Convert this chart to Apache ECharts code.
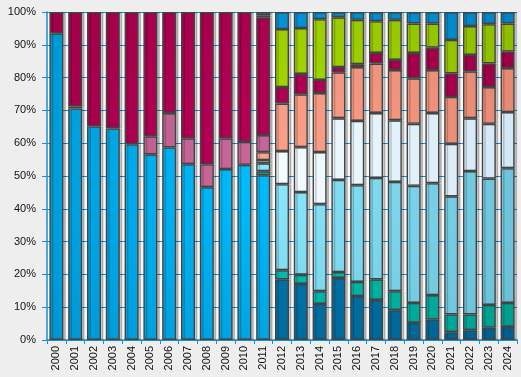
<!DOCTYPE html>
<html>
<head>
<meta charset="utf-8">
<script src="https://cdn.jsdelivr.net/npm/echarts@6/dist/echarts.min.js"></script>
<style>
    html, body { margin: 0; padding: 0; background: #eeeeee; }
    #chart { width: 521px; height: 377px; }
</style>
</head>
<body>
<div id="chart"></div>
<script>
let years = ['2000', '2001', '2002', '2003', '2004', '2005', '2006', '2007', '2008', '2009', '2010', '2011', '2012',
    '2013', '2014', '2015', '2016', '2017', '2018', '2019', '2020', '2021', '2022', '2023', '2024'];

// stacked from the bottom up, in percent of each year
let brightBlue = [93.5, 70.6, 65.1, 64.5, 59.7, 56.6, 58.7, 53.6, 46.6, 52.1, 53.4, 50.2, 0, 0, 0, 0, 0, 0, 0, 0, 0, 0, 0, 0, 0];
let darkBlue = [0, 0, 0, 0, 0, 0, 0, 0, 0, 0, 0, 0, 18.5, 17.1, 11.0, 18.9, 13.4, 12.2, 9.1, 5.2, 6.2, 2.4, 3.0, 3.7, 4.0];
let teal = [0, 0, 0, 0, 0, 0, 0, 0, 0, 0, 0, 1.2, 2.8, 2.8, 3.9, 1.8, 4.3, 6.3, 5.8, 6.1, 7.5, 5.4, 4.8, 7.0, 7.3];
let lightCyan = [0, 0, 0, 0, 0, 0, 0, 0, 0, 0, 0, 2.4, 26.2, 25.2, 26.5, 28.1, 29.5, 30.9, 33.3, 35.7, 34.1, 36.0, 43.7, 38.5, 41.1];
let paleCyan = [0, 0, 0, 0, 0, 0, 0, 0, 0, 0, 0, 1.0, 10.1, 13.7, 15.9, 18.8, 19.6, 19.8, 18.8, 18.9, 21.4, 16.0, 16.1, 16.7, 17.1];
let salmon = [0, 0, 0, 0, 0, 0, 0, 0, 0, 0, 0, 2.4, 14.5, 16.1, 18.0, 14.0, 16.4, 15.1, 15.3, 13.9, 13.1, 14.3, 14.3, 11.2, 13.4];
let mauve = [0, 0.6, 0, 0, 0, 5.5, 10.5, 7.9, 7.0, 9.4, 7.0, 5.2, 0, 0, 0, 0, 0, 0, 0, 0, 0, 0, 0, 0, 0];
let crimson = [6.5, 28.8, 34.9, 35.5, 40.3, 37.9, 30.8, 38.5, 46.4, 38.5, 39.6, 35.9, 5.0, 6.2, 4.0, 1.6, 0.9, 3.2, 3.1, 7.7, 6.8, 7.2, 5.0, 7.2, 5.0];
let green = [0, 0, 0, 0, 0, 0, 0, 0, 0, 0, 0, 0.6, 17.7, 14.0, 18.5, 15.2, 13.5, 9.7, 12.2, 9.0, 7.4, 10.2, 8.8, 12.0, 8.6];
let topBlue = [0, 0, 0, 0, 0, 0, 0, 0, 0, 0, 0, 1.0, 5.2, 4.9, 2.2, 1.6, 2.4, 2.8, 2.4, 3.5, 3.5, 8.5, 4.3, 3.7, 3.5];

let yTicks = [0, 10, 20, 30, 40, 50, 60, 70, 80, 90, 100];

let layers = [
    { name: 'A', data: brightBlue, light: '#00bcfc', dark: '#008ac6' },
    { name: 'B', data: darkBlue, light: '#007aae', dark: '#005e8e' },
    { name: 'C', data: teal, light: '#00c8b8', dark: '#009a8c' },
    { name: 'D', data: lightCyan, light: '#8ceaff', dark: '#66bad2' },
    { name: 'E', data: paleCyan, light: '#f8ffff', dark: '#cae2f4' },
    { name: 'F', data: salmon, light: '#ffa48c', dark: '#e2846e' },
    { name: 'G', data: mauve, light: '#c8689a', dark: '#ae5680' },
    { name: 'H', data: crimson, light: '#b80056', dark: '#9a0046' },
    { name: 'I', data: green, light: '#ace000', dark: '#8aba00' },
    { name: 'J', data: topBlue, light: '#00a2e6', dark: '#0082c2' }
];

// each year is drawn as a share of its own total
let totals = years.map(function (y, i) {
    let s = 0;
    layers.forEach(function (l) { s += l.data[i]; });
    return s;
});

let axisBlue = '#1a8fd2';

let series = layers.map(function (l) {
    return {
        name: l.name,
        type: 'bar',
        stack: 'total',
        barWidth: 14,
        itemStyle: {
            color: new echarts.graphic.RadialGradient(250, 180, 330, [
                { offset: 0, color: l.light },
                { offset: 1, color: l.dark }
            ], true),
            borderColor: '#444444',
            borderWidth: 1.4,
            shadowColor: 'rgba(0,0,0,0.2)',
            shadowOffsetX: 2.5,
            shadowOffsetY: 0,
            shadowBlur: 0
        },
        data: l.data.map(function (v, i) {
            return v > 0 ? v / totals[i] * 100 : null;
        })
    };
});

let option = {
    backgroundColor: '#eeeeee',
    animation: false,
    grid: {
        left: 47,
        right: 4,
        top: 12,
        bottom: 37,
        show: true,
        backgroundColor: '#f8f8f8',
        borderWidth: 0
    },
    xAxis: {
        type: 'category',
        data: years,
        boundaryGap: true,
        axisLine: { lineStyle: { color: axisBlue, width: 1.5 } },
        axisTick: { show: true, length: 4, lineStyle: { color: axisBlue } },
        axisLabel: {
            rotate: 90,
            margin: 6,
            color: '#111111',
            fontSize: 11,
            fontFamily: 'Liberation Sans, Arial, sans-serif'
        }
    },
    yAxis: {
        type: 'value',
        min: yTicks[0],
        max: yTicks[yTicks.length - 1],
        interval: 10,
        axisLine: { show: true, lineStyle: { color: axisBlue, width: 1.5 } },
        axisTick: { show: true, length: 5, lineStyle: { color: axisBlue } },
        splitLine: { show: true, lineStyle: { color: axisBlue, width: 1 } },
        axisLabel: {
            margin: 11,
            color: '#111111',
            fontSize: 11,
            fontFamily: 'Liberation Sans, Arial, sans-serif',
            formatter: '{value}%'
        }
    },
    series: series
};

let chart = echarts.init(document.getElementById('chart'));
chart.setOption(option);
</script>
</body>
</html>
